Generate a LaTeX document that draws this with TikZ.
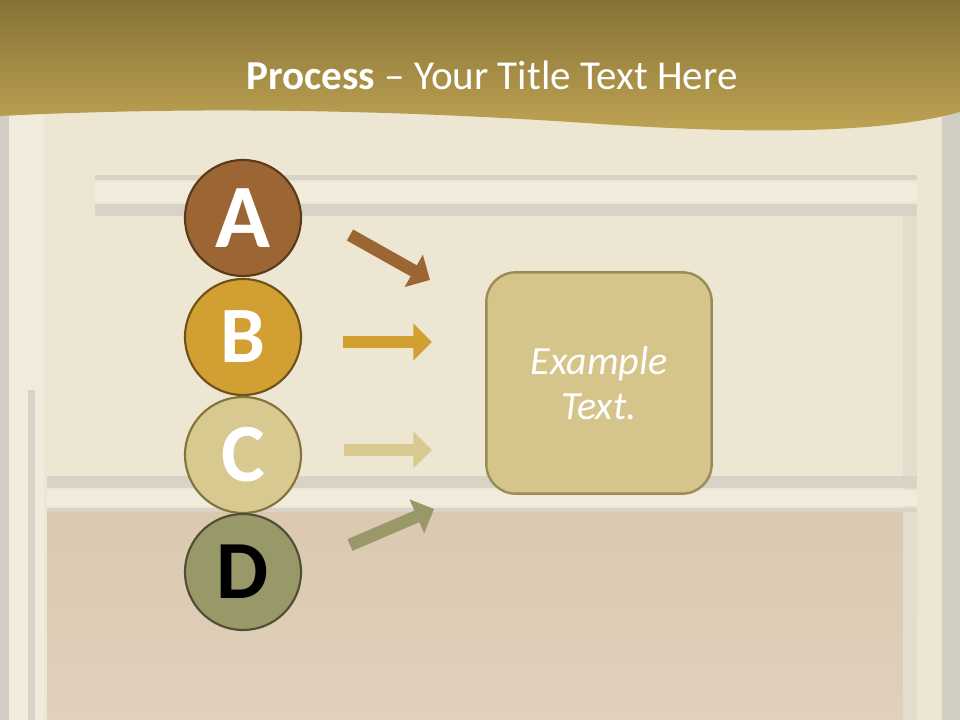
\documentclass[tikz,border=0pt]{standalone}
\usepackage{fontspec}
\setmainfont{Carlito}
\usetikzlibrary{arrows.meta}
\definecolor{paper}{HTML}{EDE6D3}
\definecolor{paperlight}{HTML}{F1EBDC}
\definecolor{bandgray}{HTML}{D8D3C6}
\definecolor{stripgray}{HTML}{D3CEC3}
\definecolor{browntop}{HTML}{DBC8B0}
\definecolor{brownbot}{HTML}{E0D0BC}
\definecolor{bantop}{HTML}{857235}
\definecolor{banbot}{HTML}{C0A454}
\definecolor{aFill}{HTML}{9C6534}
\definecolor{aLine}{HTML}{5C3A18}
\definecolor{bFill}{HTML}{D29F33}
\definecolor{bLine}{HTML}{6E5218}
\definecolor{cFill}{HTML}{D8C991}
\definecolor{cLine}{HTML}{85733A}
\definecolor{dFill}{HTML}{989868}
\definecolor{dLine}{HTML}{4F4F33}
\definecolor{boxFill}{HTML}{D5C58B}
\definecolor{boxLine}{HTML}{9A8B58}
\begin{document}
\begin{tikzpicture}[x=0.75pt,y=-0.75pt,
  circ/.style={circle, minimum size=87pt, inner sep=0pt, line width=1.6pt},
  arr/.style={line width=9.5pt, -{Triangle[length=14pt,width=27pt]}},
  exbox/.style={rounded corners=22pt, minimum width=169pt, minimum height=166pt,
    fill=boxFill, draw=boxLine, line width=1.8pt, text=white, align=center,
    font=\fontsize{30}{34}\selectfont\itshape},
  titletext/.style={text=white, font=\fontsize{30.8}{36}\selectfont}]
\useasboundingbox (0,0) rectangle (960,720);
% background paper
\fill[paper] (0,0) rectangle (960,720);
\shade[top color=browntop, bottom color=brownbot] (47,512) rectangle (917,720);
% left strip
\fill[stripgray] (0,0) rectangle (9,720);
\fill[paperlight] (9,0) rectangle (44,720);
\fill[bandgray] (28,390) rectangle (35,720);
% right strip
\fill[stripgray] (942,0) rectangle (960,720);
\fill[bandgray!50!paper] (903,216) rectangle (917,720);
% upper bands
\fill[bandgray] (95,175) rectangle (917,180);
\fill[paperlight] (95,182) rectangle (917,202);
\fill[bandgray] (95,204) rectangle (917,216);
% lower bands
\fill[bandgray] (47,476) rectangle (917,488);
\fill[paperlight] (47,490) rectangle (917,506);
\fill[bandgray] (47,508) rectangle (917,512);
% banner
\shade[top color=bantop, bottom color=banbot]
  (0,0) -- (960,0) -- (960,112)
  .. controls (880,134) and (750,134) .. (600,124)
  .. controls (400,110) and (200,106) .. (0,116) -- cycle;
\node[titletext] (title) at (492,75) {\textbf{Process} – Your Title Text Here};
% circles
\node[circ, fill=aFill, draw=aLine, text=white, font=\fontsize{68}{68}\selectfont\bfseries] (A) at (243,218) {A};
\node[circ, fill=bFill, draw=bLine, text=white, font=\fontsize{60}{60}\selectfont\bfseries] (B) at (243,337) {B};
\node[circ, fill=cFill, draw=cLine, text=white, font=\fontsize{62}{62}\selectfont\bfseries] (C) at (243,455) {C};
\node[circ, fill=dFill, draw=dLine, text=black, font=\fontsize{62}{62}\selectfont\bfseries] (D) at (243,572) {D};
% box
\node[exbox] (box) at (599,383) {Example\\Text.};
% arrows
\coordinate (a1) at (350,235); \coordinate (a2) at (430,280);
\coordinate (b1) at (343,342); \coordinate (b2) at (432,342);
\coordinate (c1) at (344,450); \coordinate (c2) at (432,450);
\coordinate (d1) at (350,545); \coordinate (d2) at (434,509);
\draw[arr, aFill] (a1) -- (a2);
\draw[arr, bFill] (b1) -- (b2);
\draw[arr, cFill] (c1) -- (c2);
\draw[arr, dFill] (d1) -- (d2);
\end{tikzpicture}
\end{document}
